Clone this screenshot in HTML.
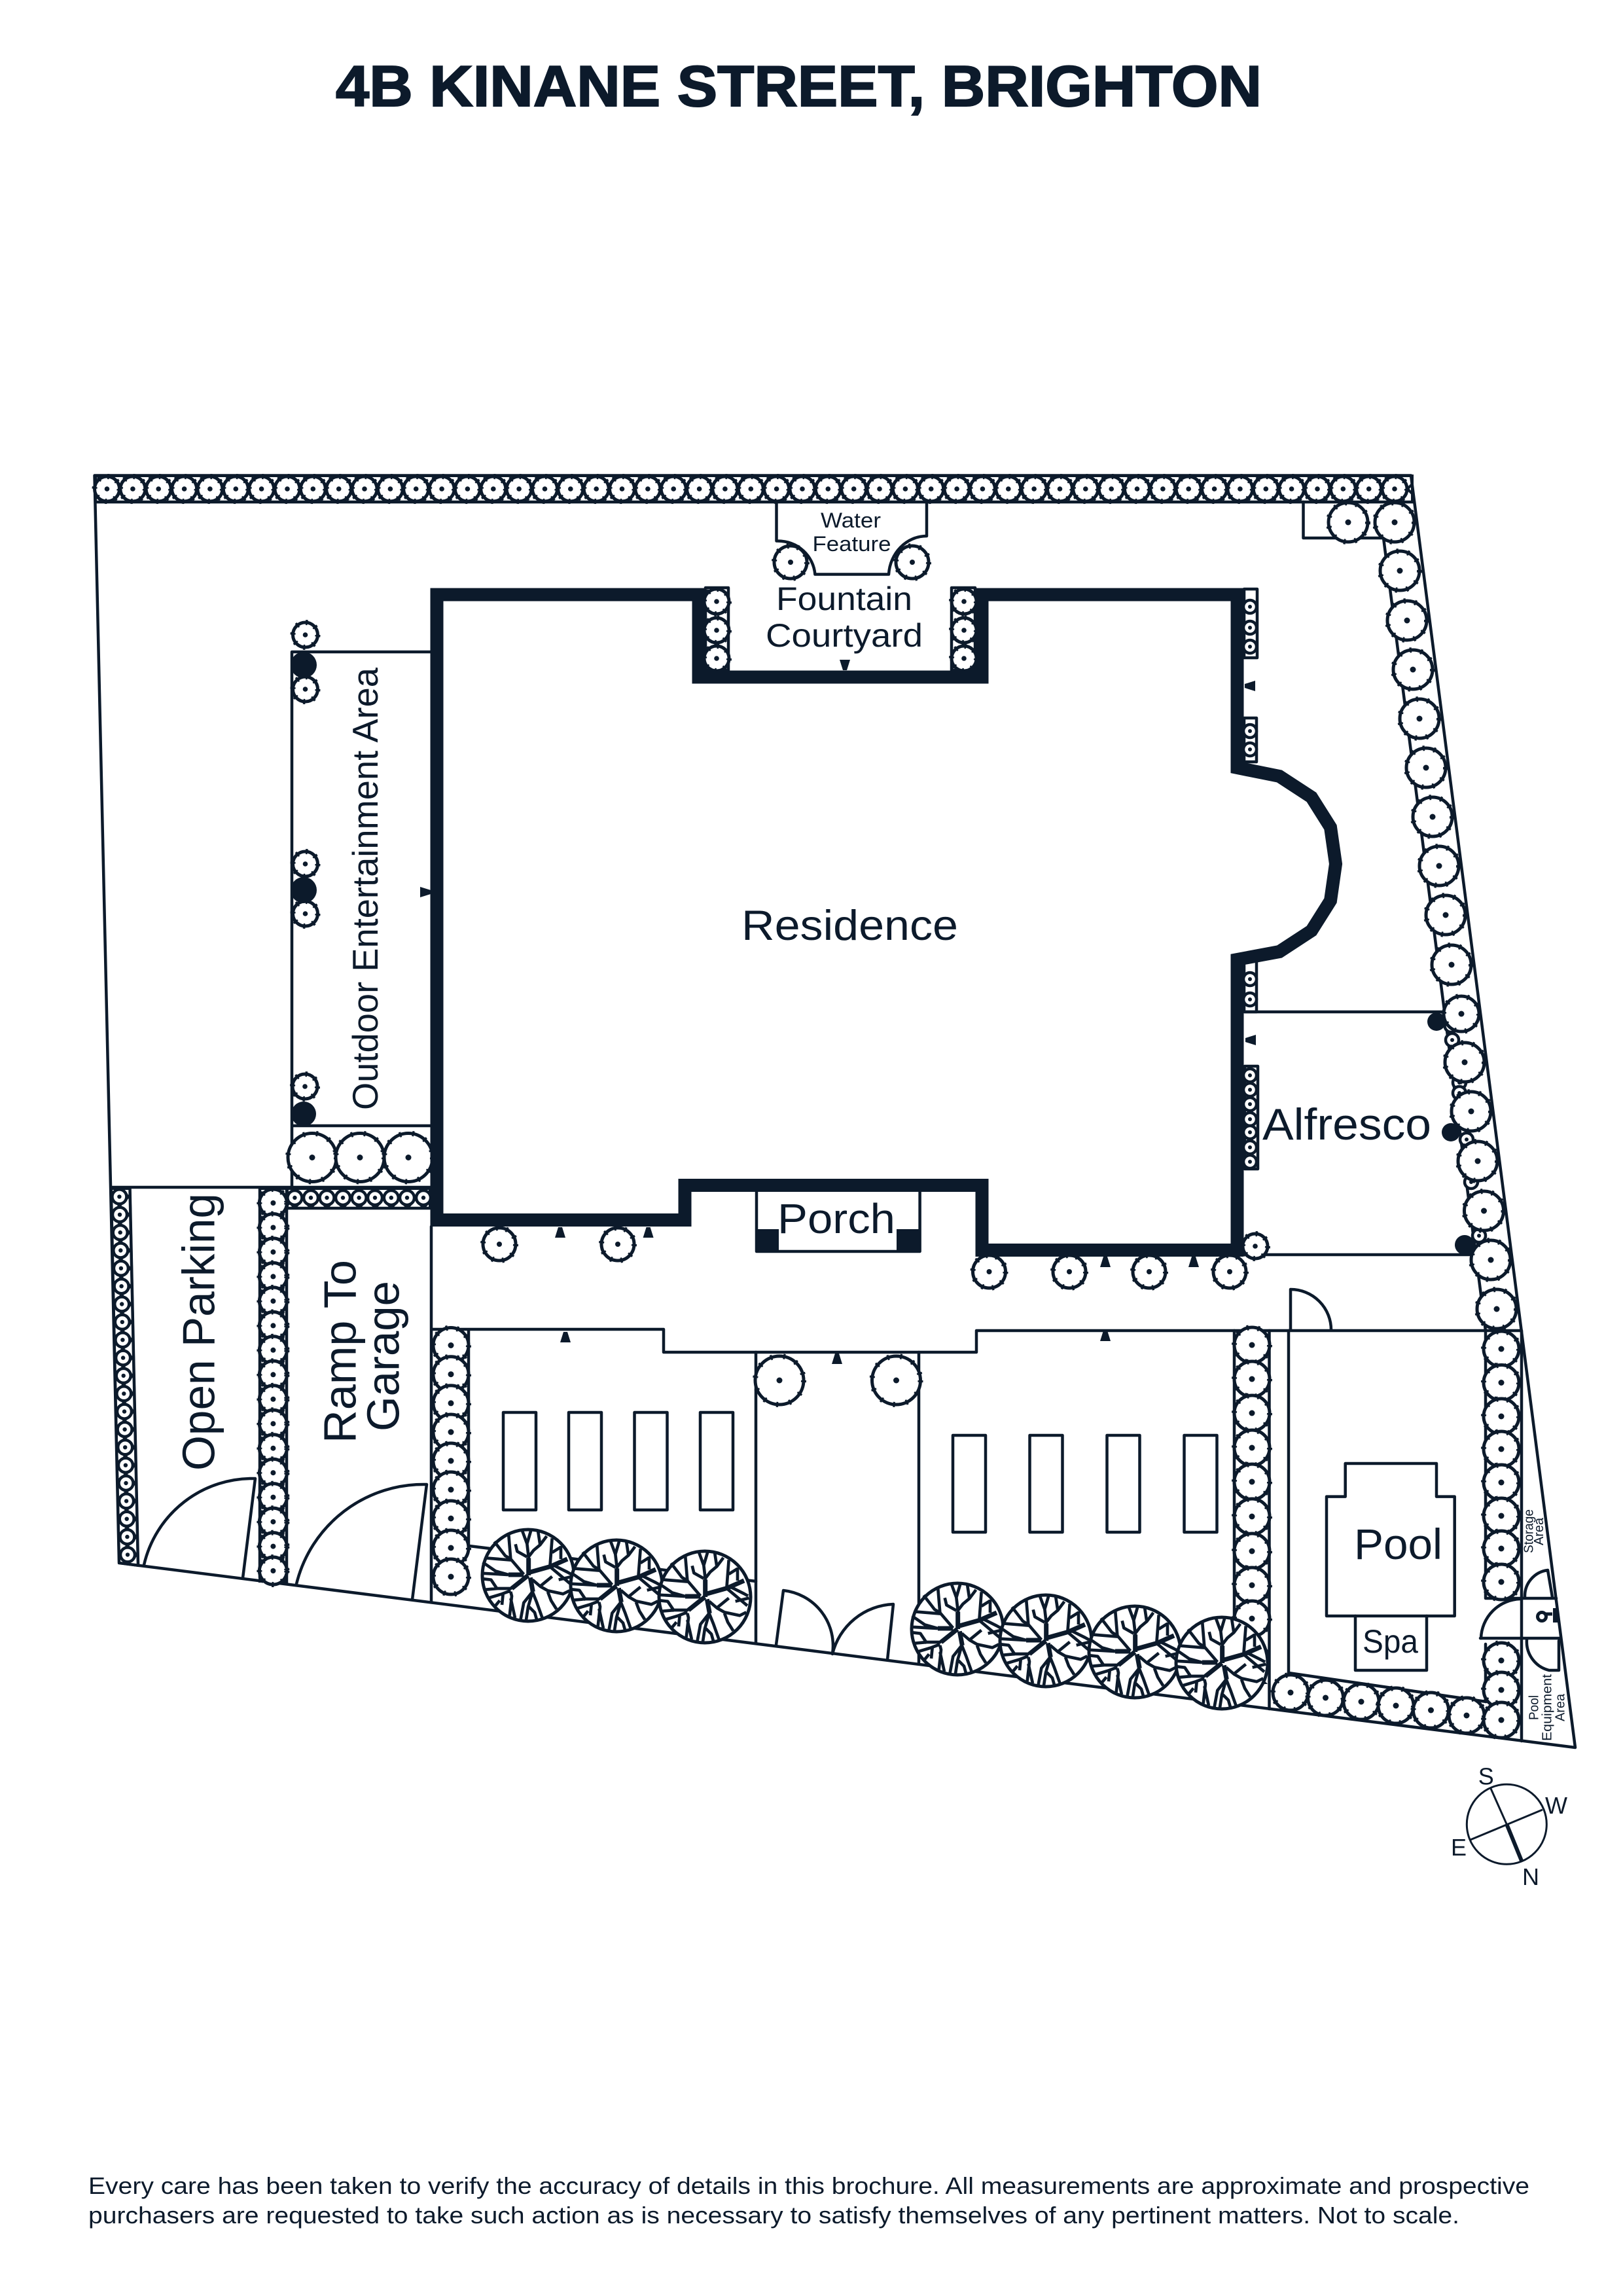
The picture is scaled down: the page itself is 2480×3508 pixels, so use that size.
<!DOCTYPE html>
<html><head><meta charset="utf-8"><style>html,body{margin:0;padding:0;background:#fff}svg{display:block}text{font-family:"Liberation Sans",sans-serif;fill:#0c1a2b}</style></head><body>
<svg xmlns="http://www.w3.org/2000/svg" width="2480" height="3508" viewBox="0 0 2480 3508">
<defs>
<g id="c10"><circle r="10" fill="#fff" stroke="#0c1a2b" stroke-width="4.5"/><circle r="3" fill="#0c1a2b"/></g>
<g id="c11"><circle r="11" fill="#fff" stroke="#0c1a2b" stroke-width="4.5"/><circle r="3.2" fill="#0c1a2b"/></g>
<g id="c19"><circle r="19" fill="#fff" stroke="#0c1a2b" stroke-width="5"/><circle r="19" fill="none" stroke="#0c1a2b" stroke-width="8" stroke-dasharray="3 12"/><circle r="3.8" fill="#0c1a2b"/></g>
<g id="c21"><circle r="21" fill="#fff" stroke="#0c1a2b" stroke-width="5"/><circle r="21" fill="none" stroke="#0c1a2b" stroke-width="8" stroke-dasharray="3 13"/><circle r="4" fill="#0c1a2b"/></g>
<g id="c25"><circle r="25" fill="#fff" stroke="#0c1a2b" stroke-width="5"/><circle r="25" fill="none" stroke="#0c1a2b" stroke-width="8" stroke-dasharray="3 13"/><circle r="4" fill="#0c1a2b"/></g>
<g id="c27"><circle r="27" fill="#fff" stroke="#0c1a2b" stroke-width="5"/><circle r="27" fill="none" stroke="#0c1a2b" stroke-width="8" stroke-dasharray="3 14"/><circle r="4.5" fill="#0c1a2b"/></g>
<g id="c30"><circle r="30" fill="#fff" stroke="#0c1a2b" stroke-width="5"/><circle r="30" fill="none" stroke="#0c1a2b" stroke-width="8" stroke-dasharray="3 14"/><circle r="4.5" fill="#0c1a2b"/></g>
<g id="c38"><circle r="37" fill="#fff" stroke="#0c1a2b" stroke-width="5"/><circle r="37" fill="none" stroke="#0c1a2b" stroke-width="8" stroke-dasharray="3 17"/><circle r="4.5" fill="#0c1a2b"/></g>
<polygon id="tu" points="-8,8 8,8 3,-8 -3,-8" fill="#0c1a2b"/>
<polygon id="td" points="-8,-8 8,-8 3,8 -3,8" fill="#0c1a2b"/>
<polygon id="tl" points="8,-8 8,8 -8,3 -8,-3" fill="#0c1a2b"/>
<polygon id="tr" points="-8,-8 -8,8 8,3 8,-3" fill="#0c1a2b"/>
<g id="tree">
<circle r="70" fill="#fff" stroke="#0c1a2b" stroke-width="5"/>
<g transform="scale(.3333) translate(-320,-325)" fill="none" stroke="#0c1a2b" stroke-width="14" stroke-linejoin="round">
<path d="M322 320L322 240L345 210L375 185L405 145M375 185L365 120M322 240L315 180L290 112M315 180L335 112M315 240L270 215L262 182M300 320L240 250L230 130M240 250L215 235L165 170M245 255L122 245M230 322L170 305L112 265M230 322L105 315M320 325L240 385L180 385L125 390M240 395L200 410L140 428M180 390L150 345L105 340M205 410L200 460M190 440L165 470M330 340L340 400L300 450L285 530M340 400L360 450L385 520M340 400L320 470L310 535M325 470L350 495L360 530M240 400L245 420L235 510M240 430L260 520M340 345L375 375L430 330M375 375L410 395L480 410L510 395M410 400L425 440L450 480M420 285L430 155M430 220L470 195M470 250L470 190M420 285L515 365M440 280L500 310L518 320M460 345L522 330"/>
<path d="M322 325V245M300 322L230 322M330 310L420 285L500 250M320 325L245 385M330 335L342 400" stroke-width="21"/>
</g>
</g>
<pattern id="pTop" patternUnits="userSpaceOnUse" width="39.35" height="40" patternTransform="translate(163.5,727)"><path d="M0 0L39.35 40M39.35 0L0 40" stroke="#0c1a2b" stroke-width="4"/></pattern>
<pattern id="pRamp" patternUnits="userSpaceOnUse" width="24.6" height="30" patternTransform="translate(450.4,1816)"><path d="M0 0L24.6 30M24.6 0L0 30" stroke="#0c1a2b" stroke-width="4"/></pattern>
<pattern id="pOpen" patternUnits="userSpaceOnUse" width="28" height="27.35" patternTransform="translate(168.4,1828.4) skewX(1.32)"><path d="M0 0L28 27.35M28 0L0 27.35" stroke="#0c1a2b" stroke-width="4"/></pattern>
<pattern id="pMid" patternUnits="userSpaceOnUse" width="41" height="37.47" patternTransform="translate(397,1838)"><path d="M0 0L41 37.47M41 0L0 37.47" stroke="#0c1a2b" stroke-width="4"/></pattern>
<pattern id="pA" patternUnits="userSpaceOnUse" width="55" height="44.2" patternTransform="translate(661,2055.5)"><path d="M0 0L55 44.2M55 0L0 44.2" stroke="#0c1a2b" stroke-width="4"/></pattern>
<pattern id="pB" patternUnits="userSpaceOnUse" width="53.5" height="52.3" patternTransform="translate(1886,2055)"><path d="M0 0L53.5 52.3M53.5 0L0 52.3" stroke="#0c1a2b" stroke-width="4"/></pattern>
<pattern id="pC" patternUnits="userSpaceOnUse" width="55" height="50.5" patternTransform="translate(2270,2061)"><path d="M0 0L55 50.5M55 0L0 50.5" stroke="#0c1a2b" stroke-width="4"/></pattern>
</defs>

<text x="513" y="162" font-size="88" font-weight="700" textLength="1415" lengthAdjust="spacingAndGlyphs" stroke="#0c1a2b" stroke-width="2">4B KINANE STREET, BRIGHTON</text>

<!-- hedge rails -->
<g stroke="#0c1a2b" stroke-width="4">
<rect x="146" y="727" width="2012" height="40" fill="url(#pTop)"/>
<rect x="439" y="1816" width="218" height="30" fill="url(#pRamp)"/>
<polygon points="170,1816 198.5,1816 211,2392 182,2388" fill="url(#pOpen)"/>
<rect x="397" y="1816" width="41" height="600" fill="url(#pMid)"/>
<rect x="661" y="2033" width="55" height="380" fill="url(#pA)" stroke-width="0"/>
<rect x="1886" y="2033" width="53.5" height="540" fill="url(#pB)" stroke-width="0"/>
<rect x="2270" y="2033" width="55" height="409" fill="url(#pC)" stroke-width="0"/>
</g>

<!-- lines -->
<g fill="none" stroke="#0c1a2b" stroke-width="4.5" stroke-linejoin="round" stroke-linecap="round">
<path d="M144.5 726.5H2156L2407 2670L182 2388Z"/>
<path d="M146 767H2161"/>
<path d="M1991.5 767V822H2114L2270 2033"/>
<path d="M446 996H660M446 996V1814M446 1720H660M170 1814H660"/>
<path d="M198.5 1816L211 2390M397 1816V2410M438 1816V2420M438 1846H657"/>
<path d="M659 1874V2447M716 2031H659M716 2031H1014V2066H1492V2033H2324M716 2033V2360"/>
<path d="M220 2391A170 170 0 0 1 390 2259L371 2411M453 2420A200 200 0 0 1 652 2268L630 2444"/>
<path d="M1155 2066V2511M1404 2066V2540"/>
<path d="M717 2362L1155 2416M1404 2462L1886 2522"/>
<path d="M1186 2513L1197 2430A85 85 0 0 1 1272 2527A100 100 0 0 1 1365 2451L1356 2536"/>
<path d="M1972 2032V1970A62 62 0 0 1 2034 2032"/>
<path d="M1886 2033V2600M1939.5 2033V2611M1969 2033V2556L2271 2600M2270 2033V2442H2378M2262 2503H2385M2270 2512V2600M2325 2033V2660"/>
<path d="M2263 2503A62 62 0 0 1 2323 2443M2330 2440A40 40 0 0 1 2365 2399L2372 2440M2333 2505A45 45 0 0 0 2367 2552H2382V2507"/>
<path d="M1186.5 767V826.5C1220 826 1243 850 1245.4 877.5H1358C1360 845 1385 819 1416 819V767"/>
<path d="M1902 1546H2210M1920 1917H2245"/>
<path d="M2055.7 2286.6V2236H2195V2286.6H2222.7V2469H2027V2286.6Z"/>
<path d="M2071 2469V2552H2180V2469"/>
<rect x="769" y="2158" width="50" height="149"/><rect x="869" y="2158" width="50" height="149"/><rect x="969.5" y="2158" width="50" height="149"/><rect x="1070" y="2158" width="50" height="149"/>
<rect x="1456" y="2193" width="50" height="148"/><rect x="1573.5" y="2193" width="50" height="148"/><rect x="1691.5" y="2193" width="50" height="148"/><rect x="1809.5" y="2193" width="50" height="148"/>
<rect x="1078" y="898" width="35" height="126"/><rect x="1454" y="898" width="36" height="126"/>
<rect x="1901" y="900" width="20" height="105"/><rect x="1901" y="1097" width="19" height="67"/><rect x="1901" y="1466" width="19" height="80"/><rect x="1902" y="1629" width="20" height="157"/>
<path d="M1156 1821V1912H1405.6V1821"/>
</g>

<!-- porch blocks -->
<rect x="1156" y="1878" width="34" height="35" fill="#0c1a2b"/><rect x="1370" y="1878" width="36" height="35" fill="#0c1a2b"/>

<!-- top hedge -->
<g>
<use href="#c19" x="163.5" y="747"/><use href="#c19" x="202.9" y="747"/><use href="#c19" x="242.2" y="747"/><use href="#c19" x="281.6" y="747"/><use href="#c19" x="320.9" y="747"/><use href="#c19" x="360.3" y="747"/><use href="#c19" x="399.6" y="747"/><use href="#c19" x="439" y="747"/><use href="#c19" x="478.3" y="747"/><use href="#c19" x="517.7" y="747"/><use href="#c19" x="557" y="747"/><use href="#c19" x="596.4" y="747"/><use href="#c19" x="635.7" y="747"/><use href="#c19" x="675.1" y="747"/><use href="#c19" x="714.4" y="747"/><use href="#c19" x="753.8" y="747"/><use href="#c19" x="793.1" y="747"/><use href="#c19" x="832.5" y="747"/><use href="#c19" x="871.8" y="747"/><use href="#c19" x="911.2" y="747"/><use href="#c19" x="950.5" y="747"/><use href="#c19" x="989.9" y="747"/><use href="#c19" x="1029.2" y="747"/><use href="#c19" x="1068.6" y="747"/><use href="#c19" x="1107.9" y="747"/><use href="#c19" x="1147.3" y="747"/><use href="#c19" x="1186.6" y="747"/><use href="#c19" x="1226" y="747"/><use href="#c19" x="1265.3" y="747"/><use href="#c19" x="1304.7" y="747"/><use href="#c19" x="1344" y="747"/><use href="#c19" x="1383.4" y="747"/><use href="#c19" x="1422.7" y="747"/><use href="#c19" x="1462.1" y="747"/><use href="#c19" x="1501.4" y="747"/><use href="#c19" x="1540.8" y="747"/><use href="#c19" x="1580.1" y="747"/><use href="#c19" x="1619.5" y="747"/><use href="#c19" x="1658.8" y="747"/><use href="#c19" x="1698.2" y="747"/><use href="#c19" x="1737.5" y="747"/><use href="#c19" x="1776.9" y="747"/><use href="#c19" x="1816.2" y="747"/><use href="#c19" x="1855.6" y="747"/><use href="#c19" x="1894.9" y="747"/><use href="#c19" x="1934.3" y="747"/><use href="#c19" x="1973.6" y="747"/><use href="#c19" x="2013" y="747"/><use href="#c19" x="2052.3" y="747"/><use href="#c19" x="2091.7" y="747"/><use href="#c19" x="2131" y="747"/>
</g>

<!-- right hedge -->
<use href="#c30" x="2060" y="798"/><use href="#c30" x="2131" y="798"/><use href="#c30" x="2139" y="872"/><use href="#c30" x="2150" y="948"/><use href="#c30" x="2159" y="1023"/><use href="#c30" x="2169" y="1098"/><use href="#c30" x="2179" y="1173"/><use href="#c30" x="2189" y="1248"/><use href="#c30" x="2199" y="1323"/><use href="#c30" x="2209" y="1398"/><use href="#c30" x="2218" y="1474"/>
<use href="#c10" x="2217.5" y="1567"/><use href="#c10" x="2219" y="1589"/><use href="#c10" x="2230" y="1654"/><use href="#c10" x="2230" y="1670"/><use href="#c10" x="2241" y="1741"/><use href="#c10" x="2248" y="1806"/><use href="#c10" x="2260" y="1888"/>
<use href="#c27" x="2233" y="1549"/><use href="#c30" x="2238" y="1623"/><use href="#c30" x="2248" y="1698"/><use href="#c30" x="2258" y="1774"/><use href="#c30" x="2267.5" y="1850"/><use href="#c30" x="2278" y="1925"/><use href="#c30" x="2287" y="2000"/>
<circle cx="2195" cy="1561" r="14" fill="#0c1a2b"/><circle cx="2217" cy="1730" r="14" fill="#0c1a2b"/><circle cx="2238" cy="1902" r="15" fill="#0c1a2b"/>

<!-- courtyard & small circles -->
<use href="#c25" x="1208" y="859"/><use href="#c25" x="1394" y="859"/>
<use href="#c19" x="1095" y="919"/><use href="#c19" x="1095" y="963"/><use href="#c19" x="1095" y="1006"/>
<use href="#c19" x="1473" y="919"/><use href="#c19" x="1473" y="963"/><use href="#c19" x="1473" y="1006"/>
<use href="#c10" x="1910" y="927"/><use href="#c10" x="1910" y="959"/><use href="#c10" x="1910" y="988"/>
<use href="#c10" x="1910" y="1117"/><use href="#c10" x="1910" y="1145"/>
<use href="#c10" x="1910" y="1496"/><use href="#c10" x="1910" y="1527"/>
<use href="#c10" x="1910" y="1643"/><use href="#c10" x="1910" y="1665"/><use href="#c10" x="1910" y="1687"/><use href="#c10" x="1910" y="1710"/><use href="#c10" x="1910" y="1730"/><use href="#c10" x="1910" y="1753"/><use href="#c10" x="1910" y="1775"/>
<use href="#c19" x="1918" y="1904"/>

<!-- outdoor area -->
<use href="#c19" x="466.5" y="970"/><use href="#c19" x="466.5" y="1053"/><circle cx="464" cy="1016" r="20" fill="#0c1a2b"/>
<use href="#c19" x="466.5" y="1320"/><use href="#c19" x="466.5" y="1396"/><circle cx="464" cy="1360" r="20" fill="#0c1a2b"/>
<use href="#c19" x="466" y="1660"/><circle cx="464" cy="1702" r="19" fill="#0c1a2b"/>
<use href="#c38" x="477" y="1768.5"/><use href="#c38" x="550" y="1768.5"/><use href="#c38" x="624" y="1768.5"/>

<!-- ramp strip -->
<use href="#c11" x="450.4" y="1830"/><use href="#c11" x="475" y="1830"/><use href="#c11" x="499.5" y="1830"/><use href="#c11" x="524" y="1830"/><use href="#c11" x="548.6" y="1830"/><use href="#c11" x="573" y="1830"/><use href="#c11" x="597.8" y="1830"/><use href="#c11" x="622" y="1830"/><use href="#c11" x="647" y="1830"/>

<!-- open parking hedge -->
<use href="#c11" x="182.4" y="1828.4"/><use href="#c11" x="183" y="1855.8"/><use href="#c11" x="183.7" y="1883.1"/><use href="#c11" x="184.3" y="1910.5"/><use href="#c11" x="184.9" y="1937.8"/><use href="#c11" x="185.6" y="1965.2"/><use href="#c11" x="186.2" y="1992.5"/><use href="#c11" x="186.8" y="2019.9"/><use href="#c11" x="187.4" y="2047.2"/><use href="#c11" x="188.1" y="2074.6"/><use href="#c11" x="188.7" y="2101.9"/><use href="#c11" x="189.3" y="2129.3"/><use href="#c11" x="190" y="2156.6"/><use href="#c11" x="190.6" y="2184"/><use href="#c11" x="191.2" y="2211.3"/><use href="#c11" x="191.9" y="2238.7"/><use href="#c11" x="192.5" y="2266"/><use href="#c11" x="193.1" y="2293.4"/><use href="#c11" x="193.7" y="2320.7"/><use href="#c11" x="194.4" y="2348.1"/><use href="#c11" x="195" y="2375.4"/>

<!-- mid hedge -->
<use href="#c21" x="417.4" y="1838"/><use href="#c21" x="417.4" y="1875.5"/><use href="#c21" x="417.4" y="1912.9"/><use href="#c21" x="417.4" y="1950.4"/><use href="#c21" x="417.4" y="1987.9"/><use href="#c21" x="417.4" y="2025.4"/><use href="#c21" x="417.4" y="2062.8"/><use href="#c21" x="417.4" y="2100.3"/><use href="#c21" x="417.4" y="2137.8"/><use href="#c21" x="417.4" y="2175.2"/><use href="#c21" x="417.4" y="2212.7"/><use href="#c21" x="417.4" y="2250.2"/><use href="#c21" x="417.4" y="2287.6"/><use href="#c21" x="417.4" y="2325.1"/><use href="#c21" x="417.4" y="2362.6"/><use href="#c21" x="417.4" y="2400"/>

<!-- driveway hedges -->
<use href="#c27" x="689" y="2055.5"/><use href="#c27" x="689" y="2099.7"/><use href="#c27" x="689" y="2143.9"/><use href="#c27" x="689" y="2188"/><use href="#c27" x="689" y="2232"/><use href="#c27" x="689" y="2276"/><use href="#c27" x="689" y="2320"/><use href="#c27" x="689" y="2365"/><use href="#c27" x="689" y="2409"/>
<use href="#c27" x="1913" y="2055"/><use href="#c27" x="1913" y="2107"/><use href="#c27" x="1913" y="2159"/><use href="#c27" x="1913" y="2212"/><use href="#c27" x="1913" y="2264"/><use href="#c27" x="1913" y="2317"/><use href="#c27" x="1913" y="2370"/><use href="#c27" x="1913" y="2422"/><use href="#c27" x="1913" y="2473"/>
<use href="#c27" x="2294" y="2061"/><use href="#c27" x="2294" y="2112.5"/><use href="#c27" x="2294" y="2164"/><use href="#c27" x="2294" y="2214"/><use href="#c27" x="2294" y="2265"/><use href="#c27" x="2294" y="2316"/><use href="#c27" x="2294" y="2366"/><use href="#c27" x="2294" y="2417"/>
<use href="#c27" x="2294" y="2537"/><use href="#c27" x="2294" y="2582"/>
<use href="#c27" x="1972" y="2586"/><use href="#c27" x="2025.5" y="2594"/><use href="#c27" x="2080" y="2600"/><use href="#c27" x="2133" y="2606"/><use href="#c27" x="2186.5" y="2613"/><use href="#c27" x="2241" y="2621"/><use href="#c27" x="2294" y="2628"/>

<!-- forecourt circles -->
<use href="#c25" x="763" y="1901"/><use href="#c25" x="944" y="1901"/>
<use href="#c25" x="1511.5" y="1943"/><use href="#c25" x="1634" y="1943"/><use href="#c25" x="1756" y="1943"/><use href="#c25" x="1879" y="1943"/>
<use href="#c38" x="1191" y="2109"/><use href="#c38" x="1369.5" y="2109"/>

<!-- trees -->
<use href="#tree" x="807" y="2407"/><use href="#tree" x="942" y="2423"/><use href="#tree" x="1077" y="2440"/>
<use href="#tree" x="1463" y="2489"/><use href="#tree" x="1598" y="2507"/><use href="#tree" x="1734" y="2524"/><use href="#tree" x="1867" y="2541"/>

<!-- residence wall -->
<path d="M667.5 908.5H1067.5V1034.5H1500.5V908.5H1890.5V1173L1955 1186L2004 1218L2033 1264L2041 1320L2033 1376L2004 1422L1955 1454L1890.5 1466V1910H1500.5V1811H1046.5V1864H667.5Z" fill="none" stroke="#0c1a2b" stroke-width="20" stroke-linejoin="miter"/>

<!-- door markers -->
<use href="#tr" x="650" y="1363"/><use href="#td" x="1291" y="1016"/><use href="#tl" x="1910" y="1048"/><use href="#tl" x="1911" y="1589"/>
<use href="#tu" x="856" y="1883"/><use href="#tu" x="990.6" y="1883"/><use href="#tu" x="1689" y="1928"/><use href="#tu" x="1824" y="1928"/>
<use href="#tu" x="864" y="2043"/><use href="#tu" x="1279" y="2076"/><use href="#tu" x="1689" y="2041"/>

<!-- tap -->
<circle cx="2356" cy="2470" r="6.5" fill="#fff" stroke="#0c1a2b" stroke-width="5"/>
<path d="M2361 2466L2372 2466" stroke="#0c1a2b" stroke-width="5"/>
<rect x="2373" y="2457" width="8" height="22" fill="#0c1a2b"/>

<!-- compass -->
<g fill="none" stroke="#0c1a2b">
<circle cx="2302.3" cy="2787.3" r="61" stroke-width="3"/>
<path d="M2278 2732.7L2302.3 2787.3M2246.7 2811L2357 2765" stroke-width="3"/>
<path d="M2302.3 2787.3L2325 2843" stroke-width="6"/>
</g>
<text x="2270.7" y="2726.7" font-size="36" text-anchor="middle">S</text>
<text x="2378" y="2771" font-size="36" text-anchor="middle">W</text>
<text x="2229" y="2835" font-size="36" text-anchor="middle">E</text>
<text x="2339" y="2880" font-size="36" text-anchor="middle">N</text>

<!-- labels -->
<text x="1254" y="806" font-size="32" textLength="92" lengthAdjust="spacingAndGlyphs">Water</text>
<text x="1241.5" y="842" font-size="32" textLength="120" lengthAdjust="spacingAndGlyphs">Feature</text>
<text x="1186" y="932" font-size="50" textLength="208" lengthAdjust="spacingAndGlyphs">Fountain</text>
<text x="1170" y="988" font-size="50" textLength="240" lengthAdjust="spacingAndGlyphs">Courtyard</text>
<text x="1133" y="1436" font-size="65" textLength="331" lengthAdjust="spacingAndGlyphs">Residence</text>
<text x="1929" y="1741" font-size="68" textLength="258" lengthAdjust="spacingAndGlyphs">Alfresco</text>
<text x="1188" y="1884" font-size="64" textLength="180" lengthAdjust="spacingAndGlyphs">Porch</text>
<text x="2069" y="2382" font-size="66" textLength="135" lengthAdjust="spacingAndGlyphs">Pool</text>
<text x="2082" y="2525" font-size="50" textLength="85" lengthAdjust="spacingAndGlyphs">Spa</text>
<text transform="translate(577,1696) rotate(-90)" font-size="55" textLength="676" lengthAdjust="spacingAndGlyphs">Outdoor Entertainment Area</text>
<text transform="translate(327.6,2247) rotate(-90)" font-size="70" textLength="424" lengthAdjust="spacingAndGlyphs">Open Parking</text>
<text transform="translate(543.7,2205) rotate(-90)" font-size="70" textLength="280" lengthAdjust="spacingAndGlyphs">Ramp To</text>
<text transform="translate(609.6,2187) rotate(-90)" font-size="70" textLength="230" lengthAdjust="spacingAndGlyphs">Garage</text>
<text transform="translate(2342.7,2373) rotate(-90)" font-size="20" textLength="67" lengthAdjust="spacingAndGlyphs">Storage</text>
<text transform="translate(2358,2361) rotate(-90)" font-size="20" textLength="42" lengthAdjust="spacingAndGlyphs">Area</text>
<text transform="translate(2350.7,2628) rotate(-90)" font-size="20" textLength="38" lengthAdjust="spacingAndGlyphs">Pool</text>
<text transform="translate(2370.7,2660) rotate(-90)" font-size="20" textLength="102" lengthAdjust="spacingAndGlyphs">Equipment</text>
<text transform="translate(2390.7,2630) rotate(-90)" font-size="20" textLength="42" lengthAdjust="spacingAndGlyphs">Area</text>

<!-- footer -->
<text x="135" y="3352" font-size="36" textLength="2202" lengthAdjust="spacingAndGlyphs">Every care has been taken to verify the accuracy of details in this brochure. All measurements are approximate and prospective</text>
<text x="135" y="3397" font-size="36" textLength="2095" lengthAdjust="spacingAndGlyphs">purchasers are requested to take such action as is necessary to satisfy themselves of any pertinent matters. Not to scale.</text>
</svg>
</body></html>
